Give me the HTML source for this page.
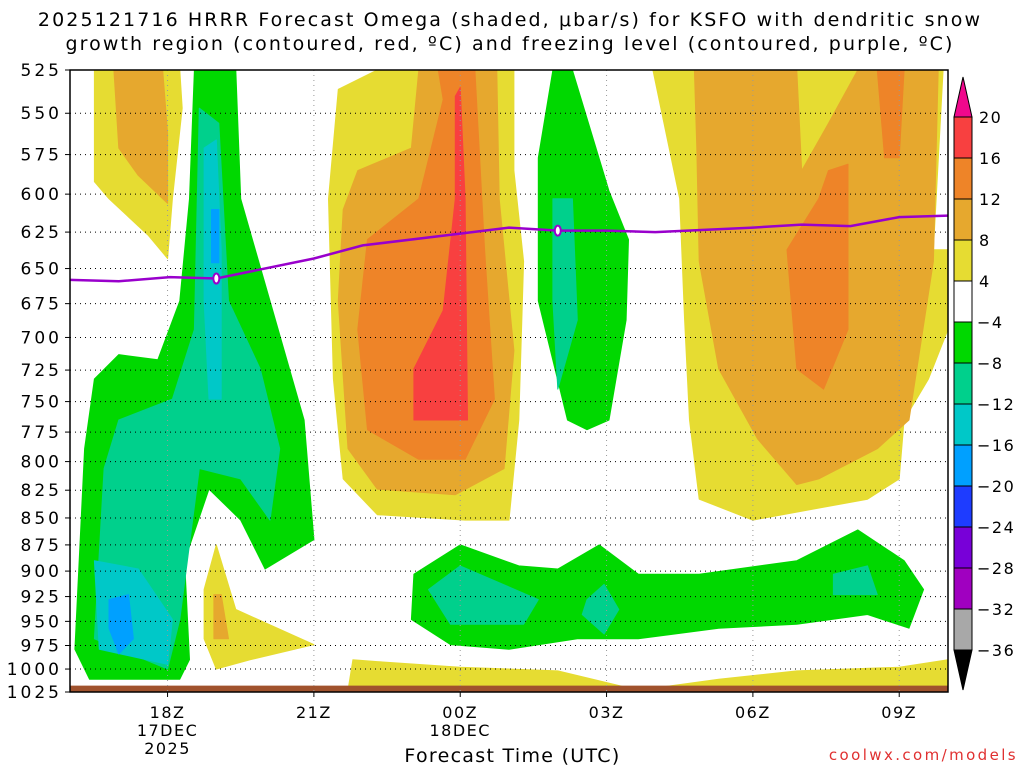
<!DOCTYPE html>
<html><head><meta charset="utf-8"><style>
body{margin:0;background:#fff;width:1024px;height:768px;overflow:hidden;font-family:"Liberation Sans",sans-serif}
svg text{font-family:"DejaVu Sans","Liberation Sans",sans-serif}
</style></head><body>
<svg id="c" width="1024" height="768">
<g id="fills"></g><g id="grid"></g><g id="fz"></g><g id="axes"></g><g id="cb"></g>
</svg>
<script>
const hours=[0,1,2.05,3,5,6,8,9,10,11,12,14,15,16,17,18];
const freezeP=[658,659,656,657,643,634,626,622,624,624,625,622,620,621,615,614];
const yTicks=[525,550,575,600,625,650,675,700,725,750,775,800,825,850,875,900,925,950,975,1000,1025];
const xTickHours=[2,5,8,11,14,17];
const xTickLabels=[["18Z","17DEC","2025"],["21Z"],["00Z","18DEC"],["03Z"],["06Z"],["09Z"]];
const cbLabels=["20","16","12","8","4","−4","−8","−12","−16","−20","−24","−28","−32","−36"];
const cbColors=["#f84040","#ee8428","#e6a82e","#e6dc32","#ffffff","#00d800","#00d08c","#00c8c8","#00a0ff","#1e3cff","#7800d8","#a000c0","#a8a8a8"];
const Y="#e6dc32",LO="#e6a82e",O="#ee8428",R="#f84040",G="#00d800",T="#00d08c",C="#00c8c8",B="#00a0ff";
const regions=[
["yellow-top-left",Y,[.5,525,2.25,525,2.3,547,2.1,603,2.0,643,1.6,627,.8,603,.5,592]],
["light-orange-top-left",LO,[.9,525,1.9,525,2.0,562,2.0,606,1.4,588,1.0,571]],
["green-left",G,[2.55,525,2.45,603,2.25,673,1.8,717,1.0,713,.5,732,.3,789,.1,979,.4,1011,2.25,1011,2.45,990,2.35,890,2.85,824,3.5,852,4.0,898,5.0,870,4.8,765,4.1,673,3.5,603,3.4,525]],
["teal-left",T,[2.65,547,3.05,556,3.25,673,3.9,724,4.3,789,4.1,852,3.5,815,2.65,806,2.25,948,2.0,1000,.5,968,.7,806,1.0,765,2.1,748,2.55,694]],
["cyan-left-upper",C,[2.75,571,3.0,566,3.1,637,3.1,748,2.85,748,2.75,673]],
["cyan-left-lower",C,[.5,890,1.4,898,2.1,948,2.0,995,.6,979]],
["blue-left-upper",B,[2.9,610,3.05,610,3.05,646,2.9,646]],
["blue-left-lower",B,[.8,928,1.2,923,1.3,968,1.0,984,.8,957]],
["yellow-small",Y,[2.75,918,3.0,875,3.4,938,5.0,974,3.7,990,3.0,1000,2.75,968]],
["orange-small",LO,[2.95,923,3.1,923,3.25,968,2.95,968]],
["yellow-center",Y,[5.5,536,6.3,525,9.1,525,9.1,585,9.3,645,9.2,765,9.0,852,8.1,852,6.3,847,5.6,815,5.4,732,5.3,603]],
["light-orange-center",LO,[7.15,525,8.75,525,8.8,603,9.1,710,8.9,806,7.9,829,6.3,824,5.7,789,5.5,673,5.6,610,5.9,585,7.0,571]],
["orange-center",O,[7.55,525,8.3,525,8.5,637,8.7,748,8.1,798,7.15,798,6.1,773,5.9,694,6.1,630,7.15,603,7.65,542]],
["red-center",R,[7.9,540,8.0,535,8.1,603,8.15,765,7.05,765,7.05,724,7.65,680,7.9,603]],
["green-center",G,[9.9,525,10.3,525,11.05,598,11.45,630,11.4,687,11.05,765,10.6,773,10.2,765,9.6,673,9.6,577]],
["teal-center",T,[9.9,603,10.3,603,10.4,687,10.0,740,9.9,673]],
["yellow-right",Y,[11.95,525,17.9,525,17.7,637,18,637,18,694,17.6,732,17.1,765,17.0,815,16.35,833,14.0,852,12.9,833,12.7,765,12.6,687,12.5,603]],
["light-orange-right",LO,[12.8,525,14.9,525,15.0,585,15.55,556,16.15,525,17.8,525,17.7,645,17.2,765,16.55,789,15.35,815,14.9,820,14.1,781,13.3,724,12.9,645,12.85,571]],
["orange-right",O,[15.35,603,15.55,585,15.95,581,15.95,694,15.45,740,14.9,724,14.7,637]],
["orange-right-top",O,[16.55,525,17.1,525,17.0,577,16.7,577]],
["green-bottom",G,[7.05,903,8.0,875,9.2,895,10.0,898,10.85,875,11.65,903,12.9,903,14.9,890,16.15,861,17.1,890,17.5,918,17.2,957,16.35,943,14.9,953,13.3,957,11.65,968,10.4,968,9.0,979,7.8,974,7.0,948]],
["teal-bottom-1",T,[7.35,918,8.0,895,9.6,928,9.3,953,7.8,953]],
["teal-bottom-2",T,[10.6,928,10.95,913,11.25,938,10.95,963,10.5,943]],
["teal-bottom-3",T,[15.65,903,16.35,895,16.55,923,15.65,923]],
["yellow-bottom-1",Y,[5.7,1023,5.8,990,6.3,992,8.0,998,10.0,1002,11.65,1023]],
["yellow-bottom-2",Y,[11.65,1023,13.3,1011,14.9,1002,17.0,998,18,990,18,1023]]
];
const X0=70,X1=948,Y0=70,Y1=692;
const xs=h=>X0+(X1-X0)*h/18;
const ys=p=>Y0+(Y1-Y0)*Math.log(p/525)/Math.log(1025/525);
const NS="http://www.w3.org/2000/svg";
function mk(tag,attrs,parent){const e=document.createElementNS(NS,tag);for(const k in attrs)e.setAttribute(k,attrs[k]);parent.appendChild(e);return e;}
const fills=document.getElementById('fills'),grid=document.getElementById('grid'),axes=document.getElementById('axes'),cb=document.getElementById('cb'),fz=document.getElementById('fz');
regions.forEach(r=>{let pts=[];for(let i=0;i<r[2].length;i+=2)pts.push(xs(r[2][i]).toFixed(1)+","+ys(r[2][i+1]).toFixed(1));
const e=mk('polygon',{points:pts.join(' '),fill:r[1],stroke:r[1],'stroke-width':1,'stroke-linejoin':'round'},fills);

});
const gr=mk('rect',{x:X0,y:ys(1018),width:X1-X0,height:Y1-ys(1018),fill:"#a0522d"},fills);


yTicks.forEach(p=>{const y=ys(p);
const l=mk('line',{x1:X0,x2:X1,y1:y,y2:y,stroke:"#000","stroke-width":1,"stroke-dasharray":"1,4"},grid);


const t=mk('text',{x:62,y:y+6,"text-anchor":"end","font-size":17,"letter-spacing":"3",fill:"#000"},axes);t.textContent=p;


mk('line',{x1:X0-5,x2:X0,y1:y,y2:y,stroke:"#000"},axes);});
xTickHours.forEach((h,i)=>{const x=xs(h);
const l=mk('line',{x1:x,x2:x,y1:Y0,y2:Y1,stroke:"#999","stroke-width":1,"stroke-dasharray":"1,4"},grid);


mk('line',{x1:x,x2:x,y1:Y1,y2:Y1+5,stroke:"#000"},axes);
xTickLabels[i].forEach((s,j)=>{const t=mk('text',{x:x,y:718+j*18,"text-anchor":"middle","font-size":16,"letter-spacing":"1.5",fill:"#000"},axes);t.textContent=s;

});});
let d="";hours.forEach((h,i)=>{d+=(i?"L":"M")+xs(h).toFixed(1)+","+ys(freezeP[i]).toFixed(1);});
const fl=mk('path',{d:d,fill:"none",stroke:"#9900cc","stroke-width":2.5},fz);


[3,10].forEach(h=>{const i=hours.indexOf(h);const e=mk('ellipse',{cx:xs(h),cy:ys(freezeP[i]),rx:3,ry:5,fill:"#fff",stroke:"#9900cc","stroke-width":2},fz);

});
const bd=mk('rect',{x:X0,y:Y0,width:X1-X0,height:Y1-Y0,fill:"none",stroke:"#000","stroke-width":1.5},axes);


const CX=954,CW=18,CT=117,CS=41;
const tt=mk('polygon',{points:`${CX},${CT} ${CX+CW},${CT} ${CX+CW/2},${CT-40}`,fill:"#f0088c",stroke:"#000"},cb);


cbColors.forEach((c,i)=>{const r=mk('rect',{x:CX,y:CT+i*CS,width:CW,height:CS,fill:c,stroke:"#000"},cb);

});
const CB=CT+cbColors.length*CS;
const bt=mk('polygon',{points:`${CX},${CB} ${CX+CW},${CB} ${CX+CW/2},${CB+40}`,fill:"#000",stroke:"#000"},cb);


cbLabels.forEach((s,i)=>{const t=mk('text',{x:s[0]==="−"?977:979,y:CT+i*CS+6,"font-size":16,"letter-spacing":"1.5",fill:"#000"},cb);t.textContent=s;

});
</script>
<div style="position:absolute;left:0;top:8px;width:1020px;text-align:center;font-family:'DejaVu Sans','Liberation Sans',sans-serif;font-size:19px;line-height:24px;letter-spacing:2.1px;color:#000">2025121716 HRRR Forecast Omega (shaded, μbar/s) for KSFO with dendritic snow<br>growth region (contoured, red, ºC) and freezing level (contoured, purple, ºC)</div>
<div style="position:absolute;left:340px;top:745px;width:345px;text-align:center;font-family:'DejaVu Sans','Liberation Sans',sans-serif;font-size:19px;letter-spacing:1.3px;color:#000">Forecast Time (UTC)</div>
<div style="position:absolute;right:6px;top:746px;font-family:'DejaVu Sans','Liberation Sans',sans-serif;font-size:15px;letter-spacing:2.4px;color:#e03030">coolwx.com/models</div>
</body></html>
